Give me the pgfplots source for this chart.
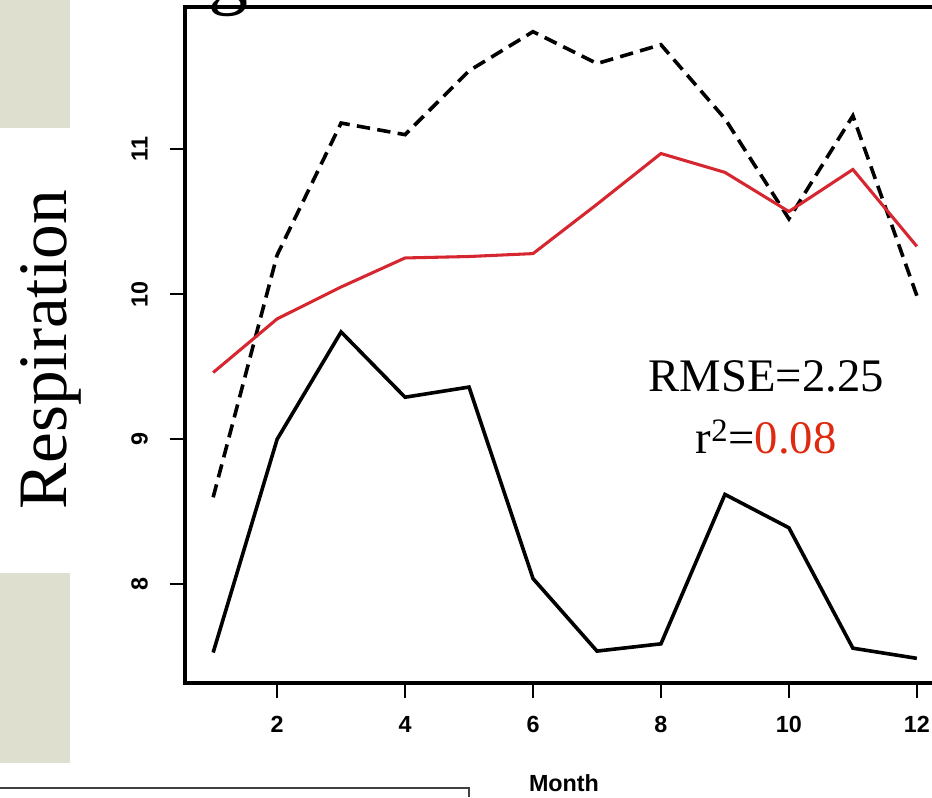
\documentclass[border=0pt]{standalone}
\usepackage{pgfplots}
\usepackage{pgfplotstable}
\pgfplotsset{compat=1.18}
\usepackage{fontspec}
\setmainfont{Liberation Serif}
\setsansfont{Liberation Sans}

\definecolor{fitred}{RGB}{214,38,48}
\definecolor{statred}{RGB}{222,42,16}
\definecolor{paper}{RGB}{222,223,207}

% Monthly respiration: observed (solid), simulated (dashed), fitted (red)
\pgfplotstableread{
month obs   sim   fit
1     7.53  8.60  9.46
2     9.00  10.27 9.83
3     9.74  11.18 10.05
4     9.29  11.10 10.25
5     9.36  11.54 10.26
6     8.04  11.81 10.28
7     7.54  11.59 10.62
8     7.59  11.72 10.97
9     8.62  11.21 10.84
10    8.39  10.52 10.57
11    7.56  11.23 10.86
12    7.49  9.99  10.33
}\resp

\begin{document}
\begin{tikzpicture}
% slide background pieces (coordinates in pixels of the slide)
\begin{scope}[x=0.75pt,y=-0.75pt,xshift=-138.75pt,yshift=512.25pt]
  \fill[paper] (0,0) rectangle (70,128);
  \fill[paper] (0,573) rectangle (70,763);
  \draw[black!75,line width=1.5pt] (0,788) -- (469,788) -- (469,797);
  % tail of the slide title running above the plot
  \node[font=\fontsize{60}{70}\selectfont, anchor=base, inner sep=0pt]
    at (228,0) {g};
  \node[font=\fontsize{52}{60}\selectfont, rotate=90, anchor=base, inner sep=0pt]
    at (67,350) {Respiration};
  \node[font=\sffamily\bfseries\fontsize{17.5}{20}\selectfont, anchor=base, inner sep=0pt]
    at (564,791) {Month};
\end{scope}

\begin{axis}[
  at={(0pt,0pt)}, anchor=south west,
  scale only axis, width=570pt, height=507pt,
  xmin=0.56, xmax=12.44, ymin=7.32, ymax=11.98,
  axis line style={line width=2.8pt},
  tick style={black, line width=1.6pt},
  tick align=outside, major tick length=11.5pt,
  xtick pos=left, ytick pos=left,
  xtick={2,4,6,8,10,12}, ytick={8,9,10,11},
  /pgf/number format/assume math mode=true,
  tick label style={font=\sffamily\bfseries\fontsize{17.5}{20}\selectfont, inner sep=0pt},
  xticklabel style={anchor=north},
  yticklabel style={rotate=90, anchor=base},
  xticklabel shift=13.5pt, yticklabel shift=16.5pt,
]
\addplot[black, line width=2.7pt, dash pattern=on 10pt off 5.5pt] table[x=month, y=sim] {\resp};
\addplot[fitred, line width=2.3pt] table[x=month, y=fit] {\resp};
\addplot[black, line width=2.7pt] table[x=month, y=obs] {\resp};

\node[font=\fontsize{35}{40}\selectfont, anchor=base] at (axis cs:9.645,9.33) {RMSE=2.25};
\node[font=\fontsize{35}{40}\selectfont, anchor=base] at (axis cs:9.645,8.90) {r\textsuperscript{2}=\textcolor{statred}{0.08}};
\end{axis}

\pgfresetboundingbox
\path[use as bounding box] (-138.75pt,-85.5pt) rectangle (560.25pt,512.25pt);
\end{tikzpicture}
\end{document}
